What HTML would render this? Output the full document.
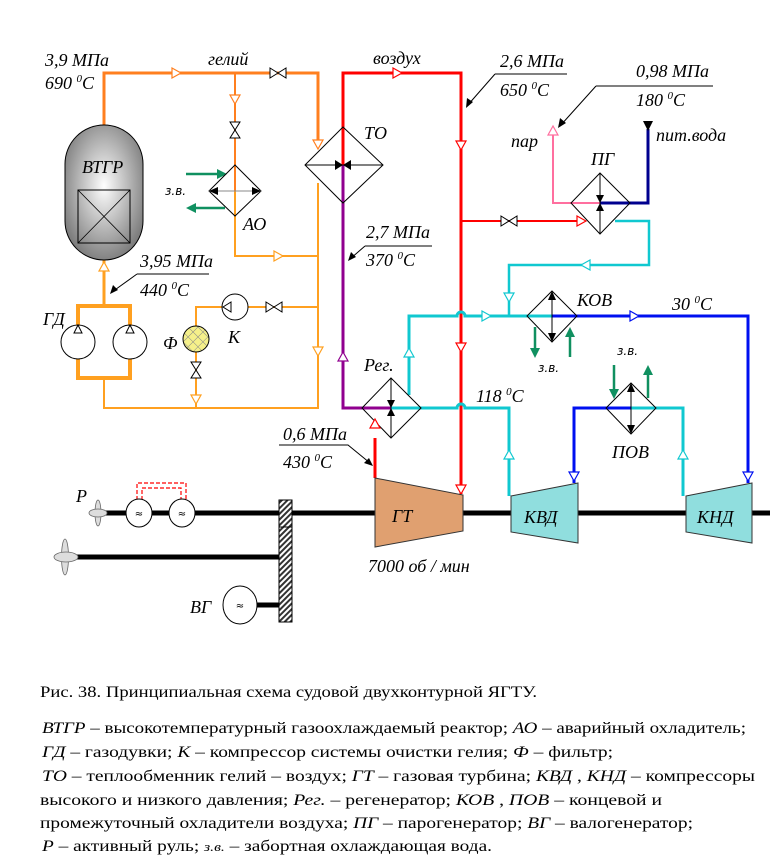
<!DOCTYPE html>
<html><head><meta charset="utf-8"><style>
html,body{margin:0;padding:0;background:#fff}
svg{display:block}
.i{font-family:"Liberation Serif",serif;font-style:italic;font-size:18px;fill:#000}
.s{font-family:"Liberation Serif",serif;font-size:16px;fill:#000}
.zv{font-family:"DejaVu Sans",sans-serif;font-style:italic;font-size:12px;fill:#000}
</style></head><body>
<svg width="780" height="861" viewBox="0 0 780 861" xmlns="http://www.w3.org/2000/svg">
<defs>
<radialGradient id="g" cx="0.5" cy="0.45" r="0.6"><stop offset="0" stop-color="#fff"/><stop offset="1" stop-color="#777"/></radialGradient>
<pattern id="h" width="4" height="4" patternUnits="userSpaceOnUse" patternTransform="rotate(45)"><rect width="4" height="4" fill="#fff"/><rect width="2" height="4" fill="#333"/></pattern>
<pattern id="x" width="7" height="7" patternUnits="userSpaceOnUse" patternTransform="rotate(45)"><rect width="7" height="7" fill="#f5f08a"/><path d="M0 0H7M0 0V7" stroke="#888" stroke-width="1"/></pattern>
</defs>
<g fill="none" stroke-linejoin="miter">
<path d="M104 125V73H318V143" stroke="#ff7f1f" stroke-width="3"/>
<path d="M235 73V191" stroke="#ff7f1f" stroke-width="2"/>
<path d="M235 191V256H318M318 183V408H104V378" stroke="#ffa020" stroke-width="2"/>
<path d="M104 260V306" stroke="#ffa020" stroke-width="3"/>
<rect x="78" y="306" width="52" height="72" stroke="#ffa020" stroke-width="4"/>
<path d="M318 307H248M222 307H196V408" stroke="#ffa020" stroke-width="2"/>
<path d="M343 165V73H461V494" stroke="#f00" stroke-width="3"/>
<path d="M461 221H585" stroke="#f00" stroke-width="2"/>
<path d="M375 478V438" stroke="#f00" stroke-width="3"/>
<path d="M343 165V408H391" stroke="#90008f" stroke-width="3"/>
<path d="M553 128V203H600" stroke="#ff6f9f" stroke-width="2"/>
<path d="M600 203H648V129" stroke="#00008f" stroke-width="3"/>
<path d="M615 221H649V265H509V316" stroke="#10c8d0" stroke-width="2.5"/>
<path d="M409 395V316H457a4 4 0 0 1 8 0H552" stroke="#10c8d0" stroke-width="3"/>
<path d="M391 408H457a4 4 0 0 1 8 0H509V496" stroke="#10c8d0" stroke-width="3"/>
<path d="M631 408H683V496" stroke="#10c8d0" stroke-width="3"/>
<path d="M552 316H748V483" stroke="#0010f0" stroke-width="3"/>
<path d="M631 408H574V483" stroke="#0010f0" stroke-width="3"/>
<path d="M186 174H222M225 208H192M535 327V352M570 357V332M614 365V393M648 398V370" stroke="#109060" stroke-width="2.5"/>
</g>
<g fill="#109060">
<polygon points="227,174 217,169 217,179"/><polygon points="186,208 196,203 196,213"/>
<polygon points="535,358 530,348 540,348"/><polygon points="570,327 565,337 575,337"/>
<polygon points="614,399 609,389 619,389"/><polygon points="648,365 643,375 653,375"/>
</g>
<rect x="65" y="125" width="78" height="135" rx="39" ry="39" fill="url(#g)" stroke="#000"/>
<rect x="78" y="190" width="52" height="53" fill="none" stroke="#000"/>
<path d="M78 190L130 243M130 190L78 243" stroke="#000" stroke-width="0.8"/>
<g fill="none" stroke="#000" stroke-width="1">
<polygon points="343,127 383,165 343,203 305,165"/>
<polygon points="235,165 261,191 235,216 209,191"/>
<polygon points="600,173 630,203 600,234 571,203"/>
<polygon points="552,291 577,316 552,342 527,316"/>
<polygon points="391,378 421,408 391,438 362,408"/>
<polygon points="631,383 656,408 631,434 606,408"/>
</g>
<g stroke="#000" stroke-width="1">
<path d="M305 165H383M600 173V234M552 291V342M391 378V438M631 383V434"/>
<path d="M209 191H261" stroke="#888"/>
</g>
<g fill="#000">
<polygon points="343,165 335,160 335,170"/><polygon points="343,165 351,160 351,170"/>
<polygon points="209,191 218,187 218,195"/><polygon points="261,191 252,187 252,195"/>
<polygon points="600,203 596,195 604,195"/><polygon points="600,203 596,211 604,211"/>
<polygon points="552,291 548,300 556,300"/><polygon points="552,342 548,333 556,333"/>
<polygon points="391,408 387,400 395,400"/><polygon points="391,408 387,416 395,416"/>
<polygon points="631,383 627,392 635,392"/><polygon points="631,434 627,425 635,425"/>
<polygon points="648,131 643,121 653,121"/>
</g>
<g fill="#fff" stroke-width="1.2">
<polygon points="181,73 172,68 172,78" stroke="#ff7f1f"/>
<polygon points="235,104 230,95 240,95" stroke="#ff7f1f"/>
<polygon points="318,149 313,140 323,140" stroke="#ff7f1f"/>
<polygon points="283,256 274,251 274,261" stroke="#ffa020"/>
<polygon points="318,356 313,347 323,347" stroke="#ffa020"/>
<polygon points="196,404 191,395 201,395" stroke="#ffa020"/>
<polygon points="104,262 99,271 109,271" stroke="#ffa020"/>
<polygon points="402,73 393,68 393,78" stroke="#f00"/>
<polygon points="461,150 456,141 466,141" stroke="#f00"/>
<polygon points="461,352 456,343 466,343" stroke="#f00"/>
<polygon points="461,494 456,485 466,485" stroke="#f00"/>
<polygon points="586,221 577,216 577,226" stroke="#f00"/>
<polygon points="375,419 370,428 380,428" stroke="#f00"/>
<polygon points="343,352 338,361 348,361" stroke="#90008f"/>
<polygon points="553,126 548,135 558,135" stroke="#ff6f9f"/>
<polygon points="581,265 590,260 590,270" stroke="#10c8d0"/>
<polygon points="509,302 504,293 514,293" stroke="#10c8d0"/>
<polygon points="491,316 482,311 482,321" stroke="#10c8d0"/>
<polygon points="409,348 404,357 414,357" stroke="#10c8d0"/>
<polygon points="509,450 504,459 514,459" stroke="#10c8d0"/>
<polygon points="683,450 678,459 688,459" stroke="#10c8d0"/>
<polygon points="639,316 630,311 630,321" stroke="#0010f0"/>
<polygon points="574,481 569,472 579,472" stroke="#0010f0"/>
<polygon points="748,481 743,472 753,472" stroke="#0010f0"/>
</g>
<g fill="#fff" stroke="#000" stroke-width="1">
<polygon points="270,68 286,78 286,68 270,78"/>
<polygon points="230,122 240,122 230,138 240,138"/>
<polygon points="266,302 282,312 282,302 266,312"/>
<polygon points="191,362 201,362 191,378 201,378"/>
<polygon points="501,216 517,226 517,216 501,226"/>
</g>
<g fill="#fff" stroke="#000">
<circle cx="78" cy="342" r="17"/><circle cx="130" cy="342" r="17"/>
<circle cx="235" cy="307" r="13"/>
<circle cx="196" cy="339" r="13" fill="url(#x)"/>
</g>
<g fill="#fff" stroke="#000" stroke-width="1">
<polygon points="78,325 74,333 82,333"/><polygon points="130,325 126,333 134,333"/>
<polygon points="223,307 231,302 231,312"/>
</g>
<g stroke="#000" stroke-width="1" fill="none">
<path d="M137 274H209M137 274L112 292"/>
<path d="M365 246H432M365 246L350 259"/>
<path d="M495 74H567M495 74L467 106"/>
<path d="M596 86H713M596 86L560 126"/>
<path d="M279 445H348L370 463"/>
</g>
<g fill="#000">
<polygon points="110,294 113,285 118,290"/><polygon points="348,261 351,252 356,257"/>
<polygon points="466,108 467,98 473,102"/><polygon points="558,128 560,118 566,123"/>
<polygon points="373,466 364,463 369,458"/>
</g>
<path d="M100 513H770" stroke="#000" stroke-width="5"/>
<path d="M66 557H282M252 605H282" stroke="#000" stroke-width="5"/>
<rect x="279" y="500" width="13" height="122" fill="url(#h)" stroke="#000"/>
<path d="M279 527H292" stroke="#000"/>
<polygon points="375,478 463,495 463,531 375,547" fill="#e0a070" stroke="#333"/>
<polygon points="511,496 578,483 578,543 511,532" fill="#90dede" stroke="#333"/>
<polygon points="686,496 752,483 752,543 686,532" fill="#90dede" stroke="#333"/>
<path d="M137 500V483H186V500M142 500V488H181V500" stroke="#f00" stroke-width="1.2" stroke-dasharray="4 2" fill="none"/>
<ellipse cx="139" cy="513" rx="13" ry="14" fill="#fff" stroke="#000"/>
<ellipse cx="182" cy="513" rx="13" ry="14" fill="#fff" stroke="#000"/>
<ellipse cx="240" cy="605" rx="17" ry="19" fill="#fff" stroke="#000"/>
<g font-family="DejaVu Sans" font-size="10" text-anchor="middle"><text x="139" y="517">≈</text><text x="182" y="517">≈</text><text x="240" y="609">≈</text></g>
<g fill="#ddd" stroke="#666" stroke-width="0.8">
<ellipse cx="98" cy="513" rx="3" ry="13"/><ellipse cx="98" cy="513" rx="9" ry="4"/>
<ellipse cx="65" cy="557" rx="3.5" ry="18"/><ellipse cx="66" cy="557" rx="12" ry="5"/>
</g>
<text class="i" x="45" y="66">3,9 МПа</text>
<text class="i" x="45" y="89">690 <tspan font-size="11" dy="-7">0</tspan><tspan dy="7">C</tspan></text>
<text class="i" x="208" y="65">гелий</text>
<text class="i" x="82" y="173" font-size="19">ВТГР</text>
<text class="zv" x="165" y="195">з.в.</text>
<text class="i" x="243" y="230" font-size="19">АО</text>
<text class="i" x="364" y="139" font-size="20">ТО</text>
<text class="i" x="140" y="267">3,95 МПа</text>
<text class="i" x="140" y="296">440 <tspan font-size="11" dy="-7">0</tspan><tspan dy="7">C</tspan></text>
<text class="i" x="366" y="238">2,7 МПа</text>
<text class="i" x="366" y="266">370 <tspan font-size="11" dy="-7">0</tspan><tspan dy="7">C</tspan></text>
<text class="i" x="43" y="325" font-size="20">ГД</text>
<text class="i" x="163" y="349" font-size="19">Ф</text>
<text class="i" x="228" y="343" font-size="19">К</text>
<text class="i" x="364" y="371">Рег.</text>
<text class="i" x="373" y="64">воздух</text>
<text class="i" x="500" y="67">2,6 МПа</text>
<text class="i" x="500" y="96">650 <tspan font-size="11" dy="-7">0</tspan><tspan dy="7">C</tspan></text>
<text class="i" x="636" y="77">0,98 МПа</text>
<text class="i" x="636" y="106">180 <tspan font-size="11" dy="-7">0</tspan><tspan dy="7">C</tspan></text>
<text class="i" x="511" y="147">пар</text>
<text class="i" x="591" y="165">ПГ</text>
<text class="i" x="656" y="141">пит.вода</text>
<text class="i" x="577" y="306" font-size="19">КОВ</text>
<text class="i" x="672" y="310">30 <tspan font-size="11" dy="-7">0</tspan><tspan dy="7">C</tspan></text>
<text class="zv" x="538" y="372">з.в.</text>
<text class="zv" x="617" y="355">з.в.</text>
<text class="i" x="476" y="402">118 <tspan font-size="11" dy="-7">0</tspan><tspan dy="7">C</tspan></text>
<text class="i" x="612" y="458" font-size="19">ПОВ</text>
<text class="i" x="283" y="440">0,6 МПа</text>
<text class="i" x="283" y="468">430 <tspan font-size="11" dy="-7">0</tspan><tspan dy="7">C</tspan></text>
<text class="i" x="76" y="502" font-size="19">Р</text>
<text class="i" x="392" y="522" font-size="19">ГТ</text>
<text class="i" x="524" y="523" font-size="19">КВД</text>
<text class="i" x="697" y="523" font-size="19">КНД</text>
<text class="i" x="368" y="572">7000 об / мин</text>
<text class="i" x="190" y="613" font-size="19">ВГ</text>
<text class="s" x="40" y="697" textLength="497" lengthAdjust="spacingAndGlyphs">Рис. 38. Принципиальная схема судовой двухконтурной ЯГТУ.</text>
<text class="s" x="42" y="733" textLength="704" lengthAdjust="spacingAndGlyphs"><tspan font-style="italic">ВТГР</tspan> – высокотемпературный газоохлаждаемый реактор;    <tspan font-style="italic">АО</tspan> – аварийный охладитель;</text>
<text class="s" x="42" y="757" textLength="571" lengthAdjust="spacingAndGlyphs"><tspan font-style="italic">ГД</tspan> – газодувки;   <tspan font-style="italic">К</tspan> – компрессор системы очистки гелия;   <tspan font-style="italic">Ф</tspan> – фильтр;</text>
<text class="s" x="42" y="781" textLength="713" lengthAdjust="spacingAndGlyphs"><tspan font-style="italic">ТО</tspan> – теплообменник гелий – воздух;   <tspan font-style="italic">ГТ</tspan> – газовая турбина;  <tspan font-style="italic">КВД</tspan> , <tspan font-style="italic">КНД</tspan> – компрессоры</text>
<text class="s" x="40" y="805" textLength="622" lengthAdjust="spacingAndGlyphs">высокого и низкого давления;   <tspan font-style="italic">Рег.</tspan> – регенератор;   <tspan font-style="italic">КОВ</tspan> , <tspan font-style="italic">ПОВ</tspan> – концевой и</text>
<text class="s" x="40" y="828" textLength="653" lengthAdjust="spacingAndGlyphs">промежуточный охладители воздуха;   <tspan font-style="italic">ПГ</tspan> – парогенератор;   <tspan font-style="italic">ВГ</tspan> – валогенератор;</text>
<text class="s" x="42" y="851" textLength="450" lengthAdjust="spacingAndGlyphs"><tspan font-style="italic">Р</tspan> – активный руль;   <tspan font-style="italic" font-size="13">з.в.</tspan> – забортная охлаждающая вода.</text>
</svg>
</body></html>
